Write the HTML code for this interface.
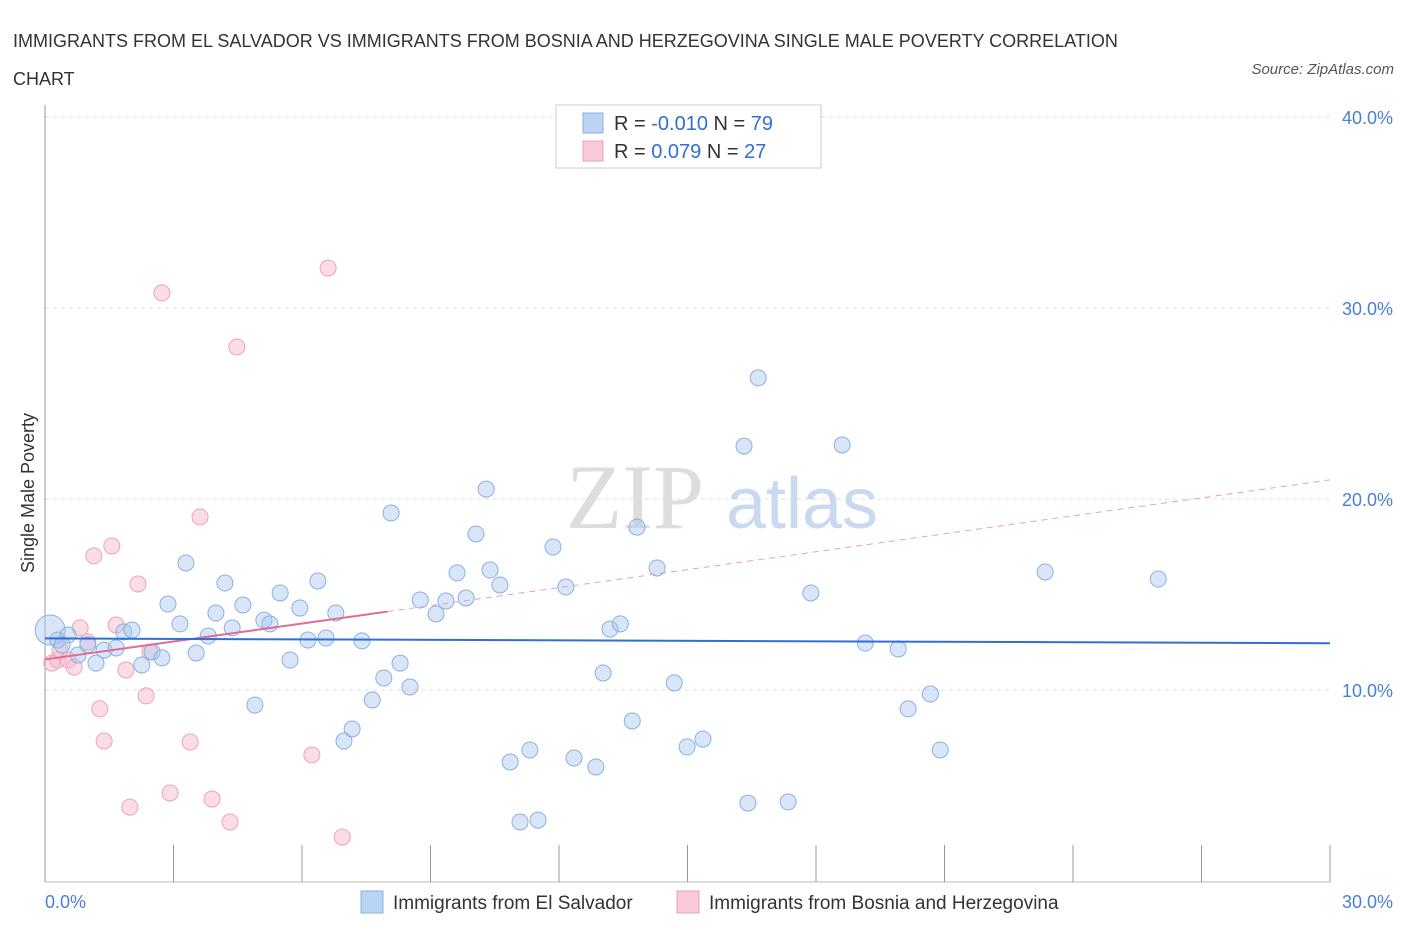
<!DOCTYPE html>
<html><head><meta charset="utf-8"><style>
body{margin:0;background:#fff;font-family:"Liberation Sans",sans-serif;}
#wrap{position:relative;width:1406px;height:930px;overflow:hidden;}
.t{position:absolute;white-space:nowrap;}
</style></head><body>
<div id="wrap">
<div class="t" style="left:13px;top:22px;font-size:18px;color:#333;line-height:38px;">IMMIGRANTS FROM EL SALVADOR VS IMMIGRANTS FROM BOSNIA AND HERZEGOVINA SINGLE MALE POVERTY CORRELATION<br>CHART</div>
<div class="t" style="right:12px;top:61px;font-size:15px;color:#555;font-style:italic;">Source: ZipAtlas.com</div>
<svg id="chart" width="1406" height="930" style="position:absolute;left:0;top:0"></svg>
</div>
<script>
const blueX=[0.12,0.30,0.54,0.40,0.77,1.00,1.19,1.38,1.66,1.84,2.03,2.26,2.50,2.73,2.87,3.15,3.29,3.53,3.81,3.99,4.20,4.37,4.62,4.90,5.11,5.25,5.49,5.72,5.95,6.14,6.37,6.56,6.79,6.98,7.17,7.40,7.64,7.91,8.08,8.29,8.52,8.76,9.13,9.36,9.62,9.83,10.06,10.30,10.39,10.62,10.86,11.09,11.32,11.51,11.86,12.16,12.35,12.86,13.03,13.19,13.43,13.71,13.82,14.29,14.69,14.99,15.36,16.32,16.41,16.65,17.35,17.88,18.61,19.15,19.92,20.15,20.67,20.90,23.35,25.99];
const blueY=[13.14,12.62,12.88,12.36,11.83,12.36,11.41,12.09,12.20,13.04,13.14,11.31,11.99,11.68,14.50,13.46,16.65,11.94,12.83,14.03,15.60,13.25,14.45,9.21,13.66,13.46,15.08,11.57,14.29,12.62,15.71,12.72,14.03,7.33,7.96,12.57,9.48,10.63,19.27,11.41,10.16,14.71,13.98,14.66,16.13,14.82,18.17,20.52,16.28,15.50,6.23,3.09,6.86,3.19,17.49,15.39,6.44,5.97,10.89,13.19,13.46,8.38,18.53,16.39,10.37,7.02,7.43,22.77,4.08,26.34,4.14,15.08,22.83,12.46,12.15,9.01,9.79,6.86,16.18,15.81];
const pinkX=[0.16,0.30,0.54,0.82,0.68,1.00,1.14,1.28,1.38,1.56,1.66,1.89,1.98,2.17,2.36,2.45,2.73,2.92,3.39,3.62,3.90,4.32,4.48,6.23,6.61,6.94,0.35];
const pinkY=[11.41,11.57,11.57,13.25,11.20,12.51,17.02,9.01,7.33,17.54,13.40,11.05,3.87,15.55,9.69,11.99,30.79,4.61,7.28,19.06,4.29,3.09,27.96,6.60,32.09,2.30,12.09];
const blueTrend=[12.7,12.45];
const pinkTrend=[11.6,21.0];
const pinkSolidEnd=8.0;
const yTicks=[10,20,30,40];
const xTickVals=[0,3,6,9,12,15,18,21,24,27,30];

const NS="http://www.w3.org/2000/svg";
const svg=document.getElementById('chart');
const X=v=>45+v*1285/30;
const Y=v=>881-v*19.1;
function mk(tag,attrs,parent){const e=document.createElementNS(NS,tag);for(const k in attrs)e.setAttribute(k,attrs[k]);(parent||svg).appendChild(e);return e;}

yTicks.forEach(v=>{
  const g=mk('line',{x1:45,x2:1330,y1:Y(v),y2:Y(v),stroke:'#ddd','stroke-dasharray':'4,4'});
  
  
  const t=mk('text',{x:1393,y:Y(v)+7,'text-anchor':'end','font-size':18,fill:'#4a7fd6','font-family':'Liberation Sans, sans-serif'});
  t.textContent=v.toFixed(1)+'%';
  
  
});
const ax=mk('line',{x1:45,x2:45,y1:105,y2:882,stroke:'#999'});


const bx=mk('line',{x1:45,x2:1330,y1:882,y2:882,stroke:'#bbb'});


xTickVals.forEach(v=>{
  const l=mk('line',{x1:X(v),x2:X(v),y1:845,y2:882,stroke:'#999'});
  
  
});
[[0,'start',45],[30,'end',1393]].forEach(([v,a,px])=>{
  const t=mk('text',{x:px,y:908,'text-anchor':a,'font-size':18,fill:'#4a7fd6','font-family':'Liberation Sans, sans-serif'});
  t.textContent=v.toFixed(1)+'%';
  
  
});
const yl=mk('text',{x:34,y:493,transform:'rotate(-90 34 493)','text-anchor':'middle','font-size':18,fill:'#333','font-family':'Liberation Sans, sans-serif'});
yl.textContent='Single Male Poverty';



const w1=mk('text',{x:635,y:528,'text-anchor':'middle','font-size':92,fill:'#ddd','font-family':'Liberation Serif, serif'});
w1.textContent='ZIP';


const w2=mk('text',{x:802,y:528,'text-anchor':'middle','font-size':72,fill:'#c9d9f0','font-family':'Liberation Sans, sans-serif'});
w2.textContent='atlas';



pinkX.forEach((x,i)=>{
  const c=mk('circle',{cx:X(x),cy:Y(pinkY[i]),r:8,fill:'rgba(246,180,202,0.45)',stroke:'#eba3bb','stroke-width':1});
  
  
});
blueX.forEach((x,i)=>{
  const c=mk('circle',{cx:X(x),cy:Y(blueY[i]),r:i===0?15:8,fill:'rgba(168,200,240,0.45)',stroke:'#8cb0e0','stroke-width':1});
  
  
});
const pe=pinkTrend[0]+(pinkTrend[1]-pinkTrend[0])*pinkSolidEnd/30;
const pd=mk('line',{x1:X(pinkSolidEnd),y1:Y(pe),x2:X(30),y2:Y(pinkTrend[1]),stroke:'#e8a0b8','stroke-width':1,'stroke-dasharray':'6,5'});


const ps=mk('line',{x1:X(0),y1:Y(pinkTrend[0]),x2:X(pinkSolidEnd),y2:Y(pe),stroke:'#e36a95','stroke-width':2});


const bl=mk('line',{x1:X(0),y1:Y(blueTrend[0]),x2:X(30),y2:Y(blueTrend[1]),stroke:'#2f6fd6','stroke-width':2});



// top legend
const lg=mk('rect',{x:556,y:105,width:265,height:63,fill:'#fff',stroke:'#ccc'});


[[0,'#b9d3f5','#8cb0e0','-0.010','79'],[1,'#f9c9d8','#eba3bb',' 0.079','27']].forEach(([i,f,s,r,n])=>{
  const y=123+i*28;
  const sw=mk('rect',{x:583,y:y-10,width:20,height:20,fill:f,stroke:s});
  
  
  const t=mk('text',{x:614,y:y+7,'font-size':20,fill:'#333','font-family':'Liberation Sans, sans-serif','xml:space':'preserve'});
  t.innerHTML='R = <tspan fill="#2f6fd6">'+(r.startsWith(' ')?' ':'')+r.trim()+'</tspan>   N = <tspan fill="#2f6fd6">'+n+'</tspan>';
  
  
});
// bottom legend
[[361,'#b9d3f5','#8cb0e0','Immigrants from El Salvador'],[677,'#f9c9d8','#eba3bb','Immigrants from Bosnia and Herzegovina']].forEach(([x,f,s,l])=>{
  const sw=mk('rect',{x:x,y:891,width:22,height:22,fill:f,stroke:s});
  
  
  const t=mk('text',{x:x+32,y:909,'font-size':19,fill:'#333','font-family':'Liberation Sans, sans-serif'});
  t.textContent=l;
  
  
});
</script>
</body></html>
